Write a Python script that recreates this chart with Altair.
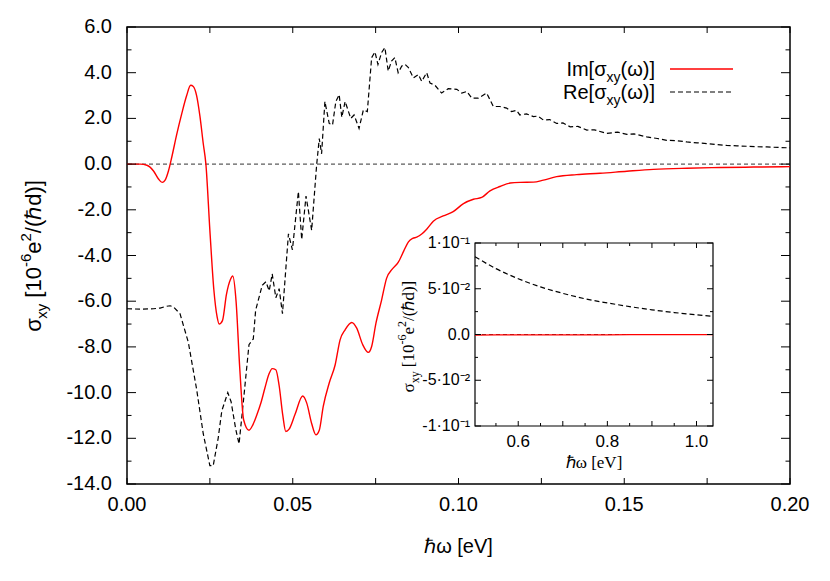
import altair as alt
import pandas as pd

# ---------------- data ----------------
im_x = [0.000, 0.004, 0.006, 0.008, 0.0095, 0.0106, 0.0115, 0.0125, 0.0135, 0.015,
        0.0165, 0.018, 0.0192, 0.0200, 0.0210, 0.0220, 0.0230, 0.0238, 0.0250, 0.0262,
        0.0272, 0.0278, 0.0288, 0.0300, 0.0312, 0.0319, 0.0329, 0.0340, 0.0352, 0.0368,
        0.0380, 0.0391, 0.0405, 0.0416, 0.0428, 0.0438, 0.0449, 0.0459, 0.0470, 0.0479,
        0.0489, 0.0507, 0.0530, 0.0542, 0.0557, 0.0570, 0.0580, 0.0592, 0.0610, 0.0628,
        0.0643, 0.0658, 0.0678, 0.0693, 0.0711, 0.0728, 0.0738, 0.0751, 0.0768, 0.0783,
        0.0800, 0.0818, 0.0835, 0.0849, 0.0862, 0.0874, 0.0890, 0.0904, 0.0924, 0.0954,
        0.0984, 0.1015, 0.1045, 0.1070, 0.1095, 0.1125, 0.1156, 0.1186, 0.1226, 0.1256,
        0.1296, 0.1356, 0.1427, 0.1508, 0.1588, 0.1689, 0.1790, 0.1890, 0.2000]
im_y = [0.0, 0.0, -0.05, -0.3, -0.65, -0.8, -0.7, -0.3, 0.3, 1.3,
        2.2, 3.0, 3.45, 3.4, 3.0, 2.1, 0.9, 0.0, -2.9, -5.5,
        -6.7, -7.0, -6.85, -5.7, -5.05, -4.9, -6.0, -8.9, -11.2, -11.65,
        -11.4, -11.0, -10.4, -9.8, -9.2, -8.95, -9.0, -9.7, -11.0, -11.7,
        -11.6, -10.95, -10.15, -10.45, -11.35, -11.85, -11.65, -10.6, -9.58, -8.78,
        -7.68, -7.25, -6.93, -7.18, -7.9, -8.24, -7.98, -6.96, -5.95, -5.0,
        -4.6, -4.3, -3.8, -3.4, -3.25, -3.2, -3.05, -2.85, -2.5, -2.27,
        -2.08, -1.73, -1.54, -1.46, -1.17, -0.98, -0.83, -0.8, -0.79, -0.7,
        -0.55, -0.46, -0.4, -0.31, -0.23, -0.18, -0.15, -0.13, -0.11]

re_x = [0.000, 0.004, 0.008, 0.010, 0.012, 0.013, 0.014, 0.016, 0.0185, 0.021,
        0.023, 0.025, 0.026, 0.0275, 0.0286, 0.0304, 0.0314, 0.0328, 0.0338, 0.0351,
        0.0368, 0.0381, 0.0388, 0.0408, 0.0419, 0.0429, 0.0438, 0.0449, 0.0459, 0.0469,
        0.0487, 0.0499, 0.0517, 0.0527, 0.0540, 0.0557, 0.0572, 0.0580, 0.0587, 0.0597,
        0.0610, 0.0620, 0.0630, 0.0640, 0.0648, 0.0658, 0.0675, 0.0685, 0.0700, 0.0713,
        0.0725, 0.0738, 0.0748, 0.0757, 0.0768, 0.0778, 0.0788, 0.0798, 0.0808, 0.0818,
        0.0829, 0.0839, 0.0849, 0.0864, 0.0879, 0.0889, 0.0904, 0.0914, 0.0929, 0.0949,
        0.0969, 0.0995, 0.1010, 0.1025, 0.1040, 0.1060, 0.1085, 0.1105, 0.1125, 0.1145,
        0.1160, 0.1175, 0.1185, 0.1205, 0.1226, 0.1240, 0.1256, 0.1275, 0.1296, 0.1315,
        0.1337, 0.1360, 0.1387, 0.1410, 0.1447, 0.1480, 0.1508, 0.1530, 0.1568, 0.1600,
        0.1628, 0.1660, 0.1689, 0.1720, 0.1749, 0.1780, 0.1809, 0.1840, 0.1870, 0.1900,
        0.1930, 0.1965, 0.2000]
re_y = [-6.33, -6.35, -6.33, -6.3, -6.22, -6.2, -6.25, -6.55, -7.8, -9.85,
        -11.8, -13.2, -13.2, -12.0, -10.8, -10.0, -10.4, -11.6, -12.25, -10.4,
        -7.9, -7.65, -6.4, -5.3, -5.15, -5.55, -4.8, -5.85, -5.45, -6.55,
        -3.05, -3.75, -1.2, -3.3, -1.4, -2.9, -0.05, 1.12, 0.45, 2.74,
        1.78, 1.71, 2.74, 3.04, 2.05, 2.74, 2.0, 2.15, 1.56, 2.37,
        2.3, 4.66, 4.91, 4.36, 4.88, 5.1, 4.07, 4.51, 4.66, 4.0,
        4.29, 4.36, 4.22, 3.77, 3.92, 3.62, 4.0, 3.55, 3.45, 3.11,
        3.3, 3.27, 3.11, 3.18, 2.89, 2.89, 3.11, 2.52, 2.52, 2.45,
        2.3, 2.35, 2.15, 2.2, 2.08, 2.1, 1.93, 1.95, 1.78, 1.8,
        1.63, 1.65, 1.49, 1.5, 1.34, 1.4, 1.3, 1.32, 1.19, 1.12,
        1.04, 1.02, 0.97, 0.93, 0.9, 0.85, 0.82, 0.8, 0.78, 0.76,
        0.75, 0.73, 0.71]

inset_x = [0.503, 0.55, 0.60, 0.65, 0.70, 0.75, 0.80, 0.85, 0.90, 0.95, 1.00, 1.037]
inset_re = [0.085, 0.072, 0.061, 0.052, 0.045, 0.039, 0.0345, 0.0305, 0.027, 0.024, 0.0215, 0.0198]
inset_im = [-0.0006, -0.0005, -0.0004, -0.0004, -0.0003, -0.0003, -0.0003, -0.0002, -0.0002,
            -0.0002, -0.0002, -0.0002]

x_major = [0.0, 0.05, 0.10, 0.15, 0.20]
x_label_text = ["0.00", "0.05", "0.10", "0.15", "0.20"]
x_minor = [0.025, 0.075, 0.125, 0.175]
y_major = [-14, -12, -10, -8, -6, -4, -2, 0, 2, 4, 6]
y_label_text = ["-14.0", "-12.0", "-10.0", "-8.0", "-6.0", "-4.0", "-2.0", "0.0", "2.0", "4.0", "6.0"]
y_minor = [-13, -11, -9, -7, -5, -3, -1, 1, 3, 5]
inset_x_major = [0.6, 0.7, 0.8, 0.9, 1.0]
inset_x_minor = [0.55, 0.65, 0.75, 0.85, 0.95]
inset_x_labels = [0.6, 0.8, 1.0]
inset_x_label_text = ["0.6", "0.8", "1.0"]
inset_y_major = [0.1, 0.05, 0.0, -0.05, -0.1]
inset_y_minor = [0.075, 0.025, -0.025, -0.075]
inset_y_label_text = ["1·10⁻¹", "5·10⁻²", "0.0", "-5·10⁻²", "-1·10⁻¹"]

# ---------------- layout ----------------
W, H = 663, 457
SANS = "Liberation Sans"
SERIF = "Liberation Serif"
FS = 20
IX0, IX1, IY0, IY1 = 348, 586, 216, 399  # inset pixel box inside plot

xs = alt.Scale(domain=[0, 0.2], nice=False, zero=False)
ys = alt.Scale(domain=[-14, 6], nice=False, zero=False)
isx = alt.Scale(domain=[0.503, 1.037], range=[IX0, IX1], nice=False, zero=False)
isy = alt.Scale(domain=[-0.1, 0.1], range=[IY1, IY0], nice=False, zero=False)

SANS_W = {**{d: 0.556 for d in "0123456789"}, ".": 0.278, " ": 0.278, "[": 0.278, "]": 0.278,
          "(": 0.333, ")": 0.333, "/": 0.278, "-": 0.333, "I": 0.278, "m": 0.833, "R": 0.722,
          "e": 0.556, "d": 0.556, "x": 0.5, "y": 0.5, "σ": 0.6, "ω": 0.78, "ℏ": 0.63}
SERIF_W = {**{d: 0.5 for d in "0123456789"}, ".": 0.25, " ": 0.25, "[": 0.333, "]": 0.333,
           "(": 0.333, ")": 0.333, "/": 0.278, "-": 0.333, "e": 0.444, "d": 0.5, "x": 0.5,
           "y": 0.5, "σ": 0.55, "ω": 0.69, "ℏ": 0.55}


def tw(text, font, size):
    table = SANS_W if font == SANS else SERIF_W
    return sum(table.get(c, 0.55) for c in text) * size


one = pd.DataFrame({"k": [0]})


def vertical_title(pieces, font, center_y, base_x):
    # pieces: (text, size, shift); an empty text means a gap of `shift` pixels
    def adv(t, s, sh):
        return sh if t == "" else tw(t, font, s)
    total = sum(adv(*p) for p in pieces)
    y = center_y + total / 2
    marks = []
    for t, s, shift in pieces:
        if t != "":
            marks.append(alt.Chart(one).mark_text(text=t, font=font, fontSize=s, angle=270,
                                                  align="left", baseline="alphabetic", color="black")
                         .encode(x=alt.value(base_x + shift), y=alt.value(y)))
        y -= adv(t, s, shift)
    return marks


def right_chain(pieces, font, right_x, base_y):
    marks = []
    x = right_x
    for t, s, shift in reversed(pieces):
        marks.append(alt.Chart(one).mark_text(text=t, font=font, fontSize=s, align="right",
                                              baseline="alphabetic", color="black")
                     .encode(x=alt.value(x), y=alt.value(base_y + shift)))
        x -= tw(t, font, s)
    return marks


df_im = pd.DataFrame({"x": im_x, "y": im_y})
df_re = pd.DataFrame({"x": re_x, "y": re_y})

zero_line = alt.Chart(pd.DataFrame({"y": [0.0]})).mark_rule(
    color="#333333", strokeWidth=1, strokeDash=[4, 3]).encode(
    y=alt.Y("y:Q", scale=ys, axis=None))

re_line = alt.Chart(df_re).mark_line(color="black", strokeWidth=1.2, strokeDash=[5, 3]).encode(
    x=alt.X("x:Q", scale=xs, axis=None), y=alt.Y("y:Q", scale=ys, axis=None))

im_line = alt.Chart(df_im).mark_line(color="#ff0000", strokeWidth=1.4, interpolate="monotone").encode(
    x=alt.X("x:Q", scale=xs, axis=None), y=alt.Y("y:Q", scale=ys, axis=None))

# tick labels
xlab = alt.Chart(pd.DataFrame({"v": x_major, "t": x_label_text})).mark_text(
    font=SANS, fontSize=FS, align="center", baseline="middle", color="black").encode(
    x=alt.X("v:Q", scale=xs, axis=None), y=alt.value(H + 21), text="t:N")
ylab = alt.Chart(pd.DataFrame({"v": y_major, "t": y_label_text})).mark_text(
    font=SANS, fontSize=FS, align="right", baseline="middle", color="black").encode(
    y=alt.Y("v:Q", scale=ys, axis=None), x=alt.value(-15), text="t:N")


def xticks(vals, L):
    d = pd.DataFrame({"t": vals})
    b = alt.Chart(d).mark_rule(color="black", strokeWidth=1).encode(
        x=alt.X("t:Q", scale=xs, axis=None), y=alt.value(H), y2=alt.value(H - L))
    t = alt.Chart(d).mark_rule(color="black", strokeWidth=1).encode(
        x=alt.X("t:Q", scale=xs, axis=None), y=alt.value(0), y2=alt.value(L))
    return [b, t]


def yticks(vals, L):
    d = pd.DataFrame({"t": vals})
    l = alt.Chart(d).mark_rule(color="black", strokeWidth=1).encode(
        y=alt.Y("t:Q", scale=ys, axis=None), x=alt.value(0), x2=alt.value(L))
    r = alt.Chart(d).mark_rule(color="black", strokeWidth=1).encode(
        y=alt.Y("t:Q", scale=ys, axis=None), x=alt.value(W), x2=alt.value(W - L))
    return [l, r]


ticks = xticks(x_major + x_minor, 6) + yticks(y_major, 9) + yticks(y_minor, 4.5)

# legend
LEG_R = 528
leg = []
leg += right_chain([("Im[σ", FS, 0), ("xy", 14, 6), ("(ω)]", FS, 0)], SANS, LEG_R, 49)
leg += right_chain([("Re[σ", FS, 0), ("xy", 14, 6), ("(ω)]", FS, 0)], SANS, LEG_R, 72)
leg.append(alt.Chart(one).mark_rule(color="#ff0000", strokeWidth=1.4).encode(
    x=alt.value(543), x2=alt.value(606), y=alt.value(42)))
leg.append(alt.Chart(one).mark_rule(color="black", strokeWidth=1.2, strokeDash=[5, 3]).encode(
    x=alt.value(543), x2=alt.value(606), y=alt.value(65)))

# axis titles
titles = vertical_title([("σ", 22, 0), ("xy", 15, 6), ("", 0, 6), ("[10", 22, 0), ("-6", 15, -10),
                         ("e", 22, 0), ("2", 15, -10), ("/(ℏd)]", 22, 0)], SANS, 229, -86)
titles.append(alt.Chart(one).mark_text(text="ℏω [eV]", font=SANS, fontSize=FS, align="center",
                                       baseline="middle", color="black")
              .encode(x=alt.value(W / 2), y=alt.value(520)))

main = alt.layer(zero_line, re_line, im_line, *ticks, xlab, ylab, *leg, *titles)

# ---------------- inset ----------------
box = alt.Chart(pd.DataFrame({"x0": [0.503], "x1": [1.037], "y0": [-0.1], "y1": [0.1]})).mark_rect(
    fill="white", stroke="black", strokeWidth=1.2).encode(
    x=alt.X("x0:Q", scale=isx, axis=None), x2="x1:Q",
    y=alt.Y("y0:Q", scale=isy, axis=None), y2="y1:Q")

izero = alt.Chart(pd.DataFrame({"x0": [0.503], "x1": [1.037], "y": [0.0]})).mark_rule(
    color="#333333", strokeWidth=1, strokeDash=[4, 3]).encode(
    x=alt.X("x0:Q", scale=isx, axis=None), x2="x1:Q", y=alt.Y("y:Q", scale=isy, axis=None))

df_in = pd.DataFrame({"x": inset_x, "re": inset_re, "im": inset_im})
ire = alt.Chart(df_in).mark_line(color="black", strokeWidth=1.2, strokeDash=[5, 3],
                                 interpolate="monotone").encode(
    x=alt.X("x:Q", scale=isx, axis=None), y=alt.Y("re:Q", scale=isy, axis=None))
iim = alt.Chart(df_in).mark_line(color="#ff0000", strokeWidth=1.3).encode(
    x=alt.X("x:Q", scale=isx, axis=None), y=alt.Y("im:Q", scale=isy, axis=None))


def ixticks(vals, L):
    d = pd.DataFrame({"t": vals})
    return [alt.Chart(d).mark_rule(color="black", strokeWidth=1).encode(
                x=alt.X("t:Q", scale=isx, axis=None), y=alt.value(IY1), y2=alt.value(IY1 - L)),
            alt.Chart(d).mark_rule(color="black", strokeWidth=1).encode(
                x=alt.X("t:Q", scale=isx, axis=None), y=alt.value(IY0), y2=alt.value(IY0 + L))]


def iyticks(vals, L):
    d = pd.DataFrame({"t": vals})
    return [alt.Chart(d).mark_rule(color="black", strokeWidth=1).encode(
                y=alt.Y("t:Q", scale=isy, axis=None), x=alt.value(IX0), x2=alt.value(IX0 + L)),
            alt.Chart(d).mark_rule(color="black", strokeWidth=1).encode(
                y=alt.Y("t:Q", scale=isy, axis=None), x=alt.value(IX1), x2=alt.value(IX1 - L))]


iticks = ixticks(inset_x_major, 5) + ixticks(inset_x_minor, 3) + iyticks(inset_y_major, 6) + \
    iyticks(inset_y_minor, 3)

iylab = alt.Chart(pd.DataFrame({"v": inset_y_major, "t": inset_y_label_text})).mark_text(
    font=SANS, fontSize=16, align="right", baseline="middle", color="black").encode(
    y=alt.Y("v:Q", scale=isy, axis=None), x=alt.value(IX0 - 5), text="t:N")
ixlab = alt.Chart(pd.DataFrame({"v": inset_x_labels, "t": inset_x_label_text})).mark_text(
    font=SANS, fontSize=17, align="center", baseline="middle", color="black").encode(
    x=alt.X("v:Q", scale=isx, axis=None), y=alt.value(IY1 + 16), text="t:N")

ititles = vertical_title([("σ", 17, 0), ("xy", 12, 5), ("", 0, 4), ("[10", 17, 0), ("-6", 12, -8),
                          ("e", 17, 0), ("2", 12, -8), ("/(ℏd)]", 17, 0)], SERIF, 310, 287)
ititles.append(alt.Chart(one).mark_text(text="ℏω [eV]", font=SERIF, fontSize=17, align="center",
                                        baseline="middle", color="black")
               .encode(x=alt.value(467), y=alt.value(436)))

inset = alt.layer(box, izero, ire, iim, *iticks, iylab, ixlab, *ititles)

chart = alt.layer(main, inset).resolve_scale(x="independent", y="independent").properties(
    width=W, height=H,
    autosize=alt.AutoSizeParams(type="none"),
    padding={"left": 119, "top": 19, "right": 20, "bottom": 80},
    background="white",
).configure_view(stroke="black", strokeWidth=1.5)

chart.save("out.html", embed_options={"renderer": "svg", "actions": False})
